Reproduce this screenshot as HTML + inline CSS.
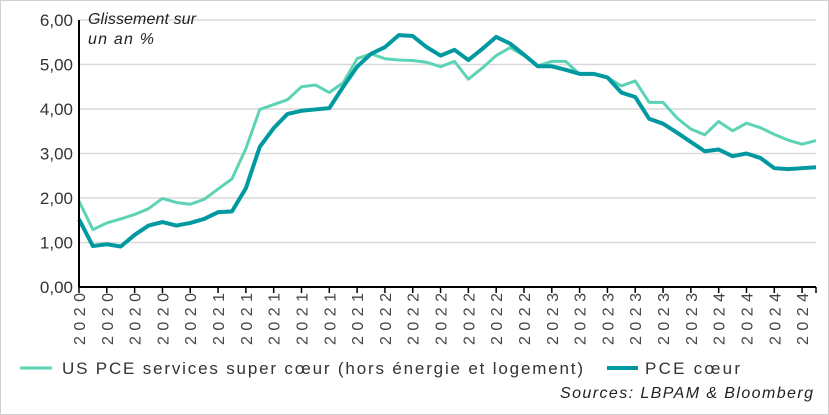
<!DOCTYPE html>
<html><head><meta charset="utf-8">
<style>
body{margin:0;background:#fff;}
svg{display:block;font-family:"Liberation Sans",sans-serif;}
</style></head>
<body>
<svg id="chart" width="829" height="415" viewBox="0 0 829 415">
<rect x="0.5" y="0.5" width="828" height="414" fill="#fff" stroke="#d0d0d0"/>
<g id="grid"></g>
<g id="series"></g>
<g id="axes"></g>
<text x="88" y="24" font-size="16" font-style="italic" fill="#222" textLength="108">Glissement sur</text>
<text x="88" y="44" font-size="16" font-style="italic" fill="#222" textLength="66">un an %</text>
<line x1="20" y1="368" x2="52" y2="368" stroke="#5dd3b5" stroke-width="3"/>
<text x="62" y="374" font-size="17" fill="#333" textLength="521">US PCE services super cœur (hors énergie et logement)</text>
<line x1="607" y1="368" x2="638" y2="368" stroke="#00999f" stroke-width="4"/>
<text x="645" y="374" font-size="17" fill="#333" textLength="95">PCE cœur</text>
<text x="560" y="398" font-size="16" font-style="italic" fill="#222" textLength="253">Sources: LBPAM &amp; Bloomberg</text>
</svg>
<script>
const superCore = [1.93,1.29,1.44,1.53,1.63,1.76,1.99,1.90,1.86,1.97,2.20,2.43,3.11,3.99,4.10,4.21,4.50,4.54,4.37,4.59,5.13,5.24,5.13,5.10,5.09,5.05,4.95,5.07,4.67,4.92,5.20,5.38,5.20,4.97,5.07,5.07,4.78,4.78,4.71,4.52,4.63,4.15,4.15,3.80,3.55,3.42,3.72,3.51,3.68,3.58,3.43,3.30,3.21,3.29];
const pceCore = [1.52,0.92,0.96,0.91,1.17,1.38,1.46,1.38,1.44,1.53,1.68,1.70,2.22,3.15,3.57,3.89,3.96,3.99,4.02,4.50,4.95,5.24,5.39,5.66,5.64,5.39,5.20,5.33,5.10,5.35,5.62,5.47,5.22,4.96,4.96,4.88,4.79,4.79,4.71,4.37,4.27,3.78,3.67,3.47,3.26,3.05,3.09,2.94,3.00,2.90,2.67,2.65,2.67,2.69];
const yTicks = [0,1,2,3,4,5,6];
const yTickLabels = ["0,00","1,00","2,00","3,00","4,00","5,00","6,00"];
const xLabels = ["2020","2020","2020","2020","2020","2021","2021","2021","2021","2021","2021","2022","2022","2022","2022","2022","2022","2023","2023","2023","2023","2023","2023","2024","2024","2024","2024"];

const NS="http://www.w3.org/2000/svg";
const X0=79,X1=816,Y0=287,Y6=20;
const n=superCore.length;
const xs=i=>X0+(X1-X0)*i/(n-1);
const ys=v=>Y0-(Y0-Y6)*v/6;
function mk(tag,attrs,parent){const e=document.createElementNS(NS,tag);for(const k in attrs)e.setAttribute(k,attrs[k]);parent.appendChild(e);return e;}
const grid=document.getElementById('grid'),axes=document.getElementById('axes'),series=document.getElementById('series');
yTicks.forEach((v,k)=>{
  if(v>0){const g=mk('line',{x1:X0,x2:X1,y1:ys(v),y2:ys(v),stroke:'#d9d9d9','stroke-width':1.5},grid);
  
  }
  const t=mk('text',{x:73,y:ys(v)+6,'font-size':17,'text-anchor':'end',fill:'#333'},axes);
  t.textContent=yTickLabels[k];
  
  
});
const ya=mk('line',{x1:X0,x2:X0,y1:Y6,y2:Y0,stroke:'#000','stroke-width':2},axes);


const xa=mk('line',{x1:X0,x2:X1,y1:Y0,y2:Y0,stroke:'#000','stroke-width':2},axes);


const step=(X1-X0)*2/(n-1);
xLabels.forEach((lab,k)=>{
  const x=X0+step*k;
  const tk=mk('line',{x1:x,x2:x,y1:Y0,y2:Y0+6,stroke:'#000','stroke-width':1.5},axes);
  
  
  const t=mk('text',{x:0,y:0,'font-size':16,'text-anchor':'end',fill:'#444',textLength:52,transform:`translate(${x+6},293) rotate(-90)`},axes);
  t.textContent=lab;
  
  
});
const endTick=mk('line',{x1:X1,x2:X1,y1:Y0,y2:Y0+6,stroke:'#000','stroke-width':1.5},axes);


function line(data,color,w,name){
  const p=mk('polyline',{points:data.map((v,i)=>xs(i)+','+ys(v)).join(' '),fill:'none',stroke:color,'stroke-width':w,'stroke-linejoin':'round'},series);
  
  
}
line(superCore,'#5dd3b5',3,'line-super-core');
line(pceCore,'#00999f',4,'line-pce-core');
</script>
</body></html>
